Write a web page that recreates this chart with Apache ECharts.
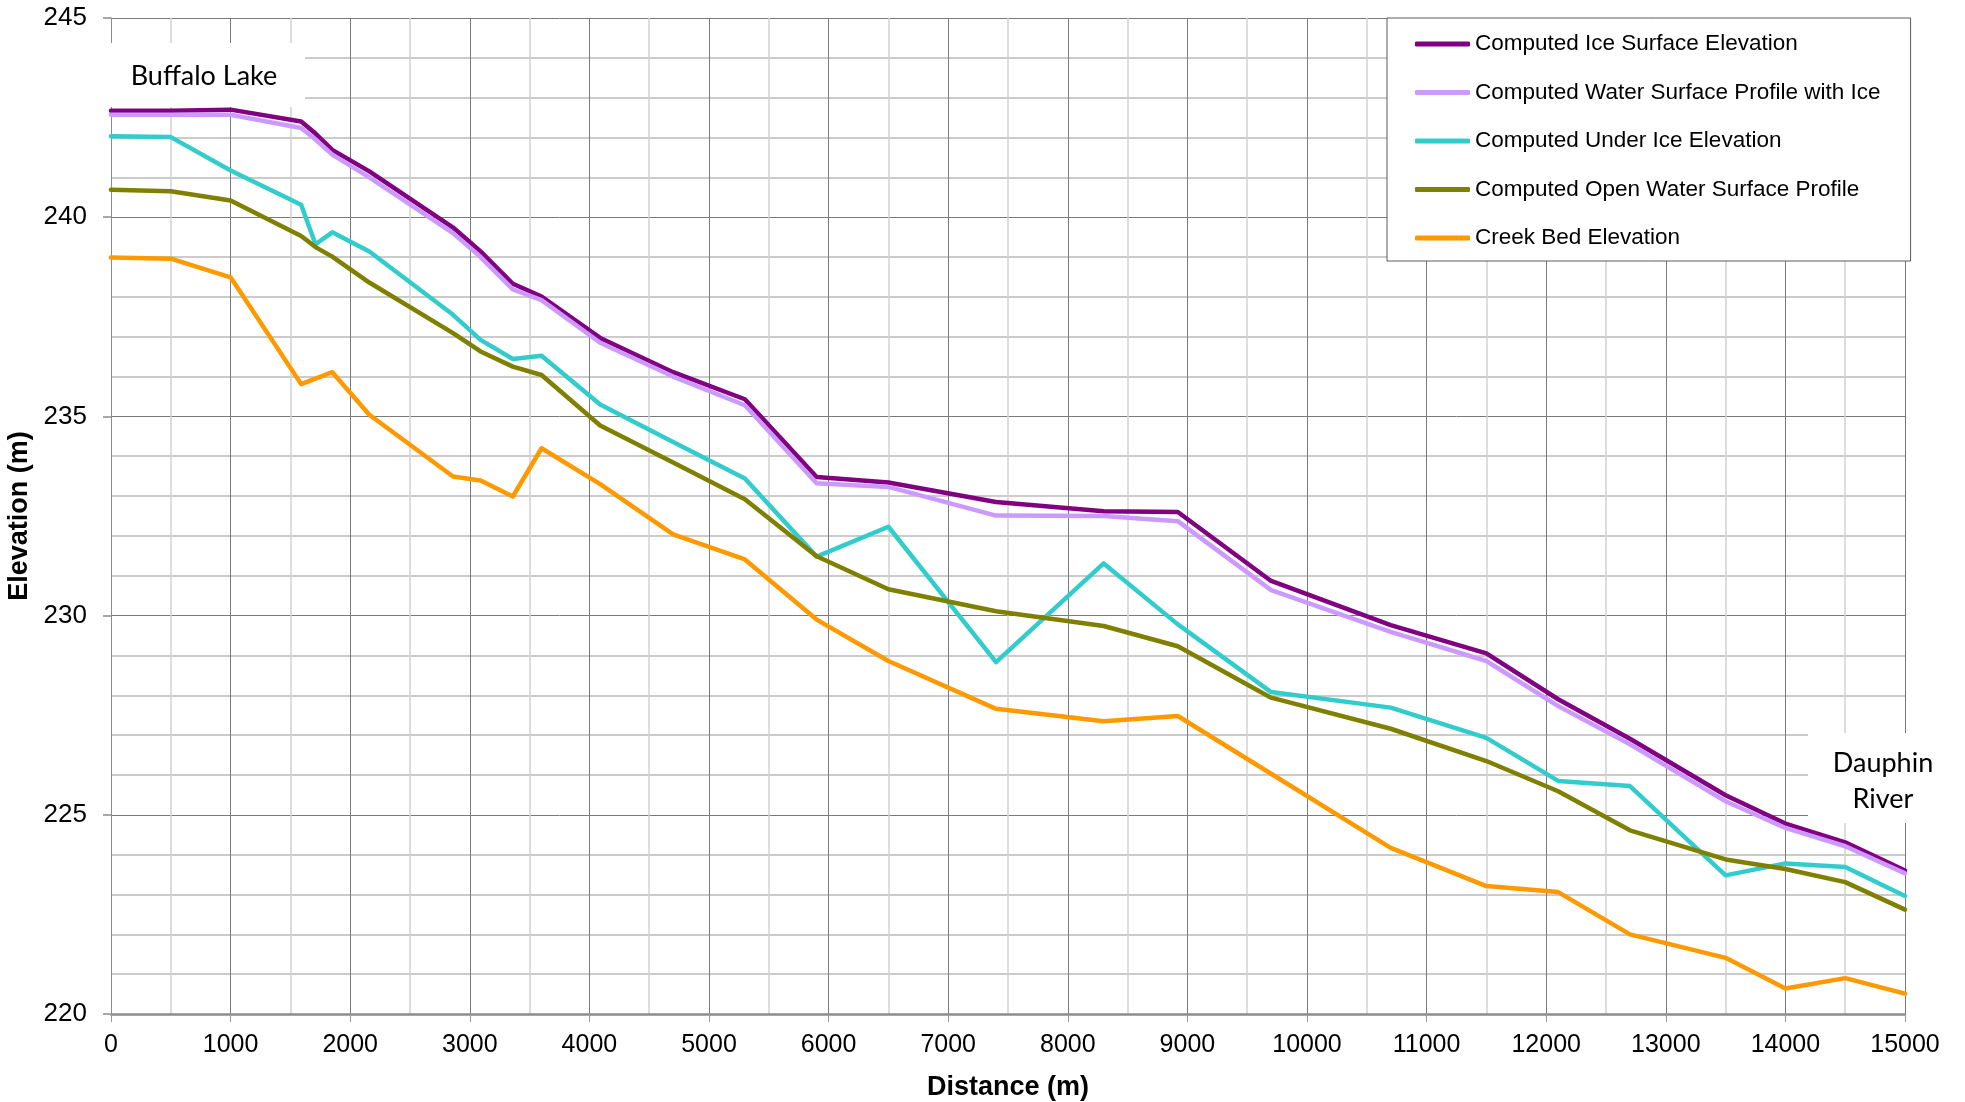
<!DOCTYPE html>
<html>
<head>
<meta charset="utf-8">
<script src="https://cdn.jsdelivr.net/npm/echarts@6/dist/echarts.min.js"></script>
<style>
  html, body { margin: 0; padding: 0; background: #ffffff; }
  #chart { width: 1965px; height: 1102px; }
</style>
</head>
<body>
<div id="chart"></div>
<script>
// Chainage of each cross-section along the creek (m)
const distance = [0, 500, 1000, 1590, 1710, 1850, 2160, 2860, 3090, 3360, 3600, 4090, 4700, 5300,
  5900, 6500, 7400, 8300, 8920, 9700, 10700, 11500, 12100, 12700, 13500, 14000, 14500, 15000];

// Elevations at each cross-section (m)
const iceSurface = [242.67, 242.67, 242.70, 242.40, 242.10, 241.69, 241.15, 239.74, 239.14, 238.33, 238.01, 236.97, 236.11, 235.43,
  233.48, 233.34, 232.85, 232.62, 232.60, 230.87, 229.76, 229.05, 227.90, 226.91, 225.49, 224.78, 224.31, 223.60];
const waterWithIce = [242.57, 242.57, 242.57, 242.24, 241.95, 241.57, 241.00, 239.60, 239.00, 238.19, 237.92, 236.85, 236.00, 235.28,
  233.32, 233.23, 232.51, 232.50, 232.37, 230.64, 229.59, 228.86, 227.73, 226.77, 225.34, 224.67, 224.21, 223.53];
const underIce = [242.03, 242.01, 241.17, 240.31, 239.32, 239.62, 239.14, 237.55, 236.92, 236.44, 236.52, 235.30, 234.36, 233.44,
  231.48, 232.23, 228.83, 231.31, 229.78, 228.08, 227.69, 226.93, 225.85, 225.72, 223.48, 223.78, 223.69, 222.96];
const openWater = [240.69, 240.65, 240.42, 239.53, 239.25, 239.01, 238.36, 237.09, 236.63, 236.25, 236.04, 234.77, 233.84, 232.92,
  231.49, 230.66, 230.11, 229.74, 229.23, 227.94, 227.16, 226.35, 225.59, 224.61, 223.88, 223.64, 223.31, 222.62];
const creekBed = [238.99, 238.96, 238.49, 235.81, 235.95, 236.11, 235.04, 233.49, 233.39, 232.99, 234.20, 233.30, 232.04, 231.41,
  229.90, 228.86, 227.66, 227.35, 227.48, 226.03, 224.17, 223.21, 223.06, 222.00, 221.41, 220.64, 220.90, 220.51];

const seriesNames = [
  'Computed Ice Surface Elevation',
  'Computed Water Surface Profile with Ice',
  'Computed Under Ice Elevation',
  'Computed Open Water Surface Profile',
  'Creek Bed Elevation'
];
const seriesValues = [iceSurface, waterWithIce, underIce, openWater, creekBed];
const seriesColors = ['#800080', '#cc99ff', '#33cccc', '#808000', '#ff9900'];

const xAxisTitle = 'Distance (m)';
const yAxisTitle = 'Elevation (m)';
const upstreamLabel = 'Buffalo Lake';
const downstreamLabel = 'Dauphin\nRiver';

const chart = echarts.init(document.getElementById('chart'), null, { renderer: 'canvas' });

const axisFont = 'Liberation Sans, Arial, sans-serif';
const noteFont = 'Lato, Carlito, sans-serif';

chart.setOption({
  animation: false,
  backgroundColor: '#ffffff',
  grid: { left: 111, top: 18, width: 1794, height: 996, containLabel: false, outerBoundsMode: 'none' },
  legend: {
    orient: 'vertical',
    left: 1387,
    top: 18,
    padding: [13, 30, 10, 28],
    backgroundColor: '#ffffff',
    borderColor: '#5a5a5a',
    borderWidth: 1,
    itemWidth: 55,
    itemHeight: 5,
    itemGap: 22.5,
    icon: 'roundRect',
    textStyle: { fontSize: 22.5, fontFamily: axisFont, color: '#000', lineHeight: 26 },
    data: seriesNames
  },
  xAxis: {
    type: 'value',
    min: 0,
    max: 15000,
    interval: 1000,
    name: xAxisTitle,
    nameLocation: 'middle',
    nameGap: 60,
    nameTextStyle: { fontSize: 27, fontWeight: 'bold', fontFamily: axisFont, color: '#000' },
    axisLine: { show: true, lineStyle: { color: '#8c8c8c', width: 2.5 } },
    axisTick: { show: true, length: 8, lineStyle: { color: '#9a9a9a', width: 1 } },
    axisLabel: { fontSize: 25, fontFamily: axisFont, color: '#000', margin: 19, formatter: v => String(v) },
    splitLine: { show: true, lineStyle: { color: '#7a7a7a', width: 1 } },
    minorTick: { show: false, splitNumber: 2 },
    minorSplitLine: { show: true, lineStyle: { color: '#d2d2d2', width: 1.5 } }
  },
  yAxis: {
    type: 'value',
    min: 220,
    max: 245,
    interval: 5,
    name: yAxisTitle,
    nameLocation: 'middle',
    nameGap: 75,
    nameRotate: 90,
    nameTextStyle: { fontSize: 27, fontWeight: 'bold', fontFamily: axisFont, color: '#000' },
    axisLine: { show: true, lineStyle: { color: '#8c8c8c', width: 1 } },
    axisTick: { show: true, length: 8, lineStyle: { color: '#a8a8a8', width: 2 } },
    axisLabel: { fontSize: 26, fontFamily: axisFont, color: '#000', margin: 24 },
    splitLine: { show: true, lineStyle: { color: '#7a7a7a', width: 1 } },
    minorTick: { show: false, splitNumber: 5 },
    minorSplitLine: { show: true, lineStyle: { color: '#bababa', width: 1.5 } }
  },
  graphic: [
    {
      type: 'rect', z: 1,
      shape: { x: 111, y: 43, width: 194, height: 64 },
      style: { fill: '#ffffff' }
    },
    {
      type: 'text', z: 1,
      x: 204, y: 76,
      style: { text: upstreamLabel, fontSize: 27, fontFamily: noteFont, fill: '#000', align: 'center', verticalAlign: 'middle' }
    },
    {
      type: 'rect', z: 1,
      shape: { x: 1808, y: 733, width: 150, height: 90 },
      style: { fill: '#ffffff' }
    },
    {
      type: 'text', z: 1,
      x: 1883, y: 781,
      style: { text: downstreamLabel, fontSize: 27, lineHeight: 36, fontFamily: noteFont, fill: '#000', align: 'center', verticalAlign: 'middle' }
    }
  ],
  series: seriesNames.map((name, k) => ({
    name: name,
    type: 'line',
    z: 2,
    symbol: 'none',
    smooth: false,
    color: seriesColors[k],
    lineStyle: { width: 4.5, color: seriesColors[k], join: 'round', cap: 'round' },
    data: distance.map((d, i) => [d, seriesValues[k][i]])
  }))
});
</script>
</body>
</html>
